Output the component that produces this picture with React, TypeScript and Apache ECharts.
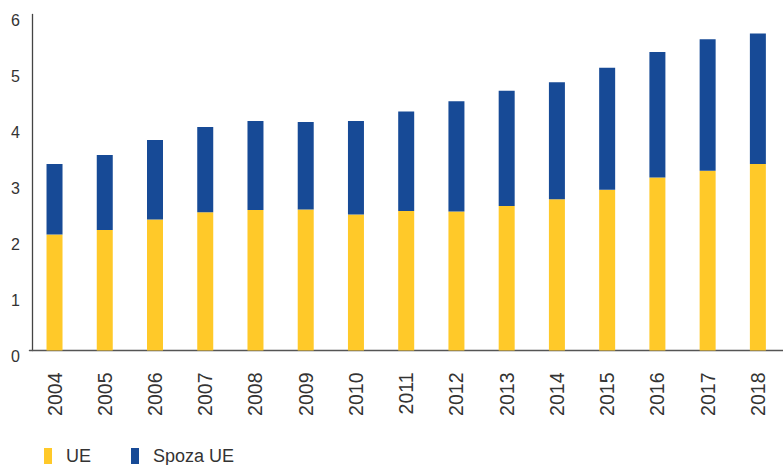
import React, { useEffect, useRef } from "react";
import * as echarts from "echarts";

const years = ["2004", "2005", "2006", "2007", "2008", "2009", "2010", "2011", "2012", "2013", "2014", "2015", "2016", "2017", "2018"];
const ueValues = [2.07, 2.15, 2.34, 2.47, 2.51, 2.52, 2.43, 2.49, 2.48, 2.58, 2.70, 2.87, 3.09, 3.21, 3.33];
const nonUeValues = [1.26, 1.34, 1.42, 1.52, 1.59, 1.56, 1.67, 1.78, 1.97, 2.06, 2.09, 2.18, 2.24, 2.35, 2.33];
const seriesNames = ["UE", "Spoza UE"];
const colors = ["#FFC929", "#174A96"];

export default function App() {
  const ref = useRef<HTMLDivElement>(null);
  useEffect(() => {
    if (!ref.current) return;
    const chart = echarts.init(ref.current, undefined, { renderer: "svg" });
    chart.setOption({
      animation: false,
      textStyle: { fontFamily: "Liberation Sans" },
      grid: { left: 29.4, width: 757.3, top: 14.5, height: 336, containLabel: false },
      legend: {
        left: 44,
        top: 447,
        padding: 0,
        itemWidth: 8,
        itemHeight: 16,
        itemGap: 40,
        icon: "rect",
        textStyle: { fontSize: 18, color: "#333", padding: [0, 0, 0, 9], fontFamily: "Liberation Sans" },
        data: seriesNames,
      },
      xAxis: {
        type: "category",
        data: years,
        axisLine: { lineStyle: { color: "#555", width: 1.3 } },
        axisTick: { show: false },
        axisLabel: { rotate: 90, margin: 22, fontSize: 19.5, color: "#333" },
      },
      yAxis: {
        type: "value",
        min: 0,
        max: 6,
        interval: 1,
        offset: -2.6,
        axisLine: { show: true, lineStyle: { color: "#444", width: 1.3 } },
        axisTick: { show: false },
        splitLine: { show: false },
        axisLabel: { fontSize: 16, color: "#333", margin: 12, verticalAlign: "top", lineHeight: 12 },
      },
      series: [
        { name: seriesNames[0], type: "bar", stack: "total", barWidth: 16, data: ueValues, itemStyle: { color: colors[0] } },
        { name: seriesNames[1], type: "bar", stack: "total", barWidth: 16, data: nonUeValues, itemStyle: { color: colors[1] } },
      ],
    });
    return () => chart.dispose();
  }, []);
  return <div ref={ref} style={{ width: 783, height: 465, position: "absolute", left: 0, top: 0 }} />;
}
